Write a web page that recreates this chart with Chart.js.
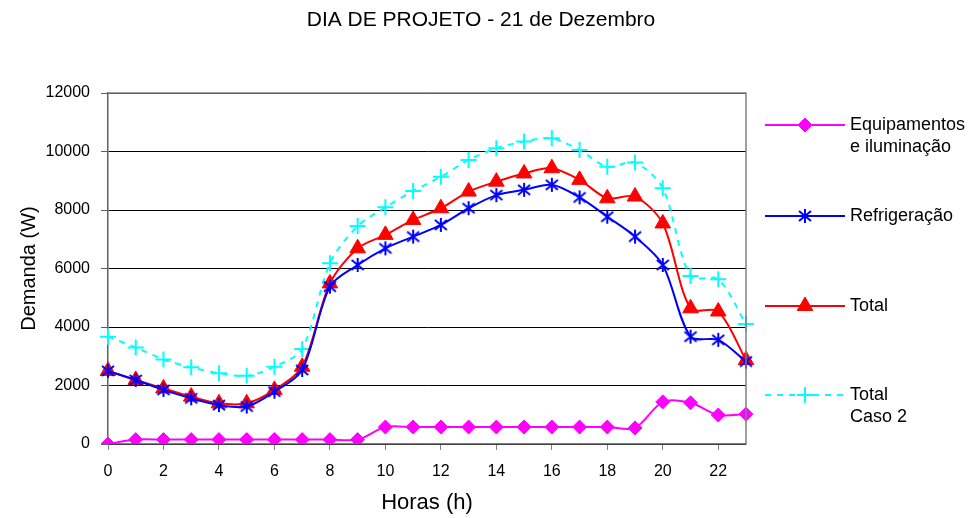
<!DOCTYPE html>
<html>
<head>
<meta charset="utf-8">
<script src="https://cdn.jsdelivr.net/npm/chart.js@4/dist/chart.umd.min.js"></script>
<style>
  html, body { margin: 0; padding: 0; background: #fff; }
  #wrap { width: 977px; height: 518px; }
</style>
</head>
<body>
<div id="wrap"><canvas id="demandChart" width="977" height="518"></canvas></div>
<script>
var chartTitle = 'DIA DE PROJETO - 21 de Dezembro';
var hours = ['0','1','2','3','4','5','6','7','8','9','10','11','12','13','14','15','16','17','18','19','20','21','22','23'];
var equipamentos = [0,150,150,150,150,150,150,150,150,150,580,580,580,580,580,580,580,580,580,550,1440,1410,990,1020];
var refrigeracao = [2500,2190,1850,1560,1330,1280,1790,2530,5380,6120,6690,7090,7490,8060,8510,8690,8860,8430,7770,7090,6120,3670,3560,2820];
var total = [2500,2190,1900,1620,1390,1390,1850,2640,5490,6690,7150,7660,8060,8630,8970,9250,9430,9030,8400,8460,7540,4640,4530,2870];
var totalCaso2 = [3670,3300,2890,2620,2420,2330,2640,3250,6180,7450,8090,8650,9140,9710,10110,10340,10450,10050,9480,9620,8740,5740,5630,4100];
var yTicks = [0,2000,4000,6000,8000,10000,12000];

var FONT = 'Liberation Sans, Arial, sans-serif';

// asterisk marker like the excel one (vertical bar + X)
function makeAsterisk(color) {
    var c = document.createElement('canvas');
    c.width = 16; c.height = 16;
    var g = c.getContext('2d');
    g.strokeStyle = color;
    g.lineWidth = 2;
    g.beginPath();
    g.moveTo(8, 1); g.lineTo(8, 15);
    g.moveTo(2, 3); g.lineTo(14, 13);
    g.moveTo(14, 3); g.lineTo(2, 13);
    g.stroke();
    return c;
}
var asterisk = makeAsterisk('#0000ff');

var titleText = {
    id: 'titleText',
    afterDraw: function (chart) {
        var ctx = chart.ctx;
        ctx.save();
        ctx.fillStyle = '#000';
        ctx.font = '21px ' + FONT;
        ctx.textAlign = 'center';
        ctx.textBaseline = 'middle';
        ctx.fillText(chartTitle, 481, 20);
        ctx.restore();
    }
};

// legend drawn at the right side, one entry per dataset
var sideLegend = {
    id: 'sideLegend',
    afterDraw: function (chart) {
        var ctx = chart.ctx;
        var rows = [125, 216, 306, 395];
        chart.data.datasets.forEach(function (ds, i) {
            var y = rows[i];
            ctx.save();
            ctx.strokeStyle = ds.borderColor;
            ctx.lineWidth = ds.borderWidth;
            ctx.setLineDash(ds.borderDash || []);
            ctx.beginPath();
            ctx.moveTo(765, y);
            ctx.lineTo(845, y);
            ctx.stroke();
            ctx.setLineDash([]);
            ctx.fillStyle = ds.pointBackgroundColor;
            ctx.strokeStyle = ds.pointBorderColor;
            ctx.lineWidth = ds.pointBorderWidth;
            Chart.helpers.drawPoint(ctx, {
                pointStyle: ds.pointStyle,
                radius: ds.pointRadius,
                rotation: 0,
                borderWidth: ds.pointBorderWidth
            }, 805, y);
            ctx.fillStyle = '#000';
            ctx.font = '18px ' + FONT;
            ctx.textBaseline = 'middle';
            ctx.textAlign = 'left';
            ds.label.forEach(function (line, k) {
                ctx.fillText(line, 850, y + k * 22);
            });
            ctx.restore();
        });
    }
};

var plotBorder = {
    id: 'plotBorder',
    afterDatasetsDraw: function (chart) {
        var a = chart.chartArea;
        var ctx = chart.ctx;
        ctx.save();
        ctx.strokeStyle = '#808080';
        ctx.lineWidth = 1.5;
        ctx.beginPath();
        ctx.moveTo(a.left, a.top);
        ctx.lineTo(a.right, a.top);
        ctx.lineTo(a.right, a.bottom);
        ctx.stroke();
        ctx.restore();
    }
};

var ctx = document.getElementById('demandChart').getContext('2d');
var demandChart = new Chart(ctx, {
    type: 'line',
    data: {
        labels: hours,
        datasets: [{
            label: ['Equipamentos', 'e iluminação'],
            data: equipamentos,
            borderColor: '#ff00ff',
            backgroundColor: '#ff00ff',
            pointBackgroundColor: '#ff00ff',
            pointBorderColor: '#ff00ff',
            pointStyle: 'rectRot',
            pointRadius: 7,
            pointBorderWidth: 1,
            borderWidth: 2,
            tension: 0.3
        }, {
            label: ['Refrigeração'],
            data: refrigeracao,
            borderColor: '#0000ff',
            backgroundColor: '#0000ff',
            pointBackgroundColor: '#0000ff',
            pointBorderColor: '#0000ff',
            pointStyle: asterisk,
            pointRadius: 8,
            pointBorderWidth: 2,
            borderWidth: 2,
            tension: 0.3
        }, {
            label: ['Total'],
            data: total,
            borderColor: '#ff0000',
            backgroundColor: '#ff0000',
            pointBackgroundColor: '#ff0000',
            pointBorderColor: '#ff0000',
            pointStyle: 'triangle',
            pointRadius: 9,
            pointBorderWidth: 1,
            borderWidth: 2,
            tension: 0.3
        }, {
            label: ['Total', 'Caso 2'],
            data: totalCaso2,
            borderColor: '#00ffff',
            backgroundColor: '#00ffff',
            pointBackgroundColor: '#00ffff',
            pointBorderColor: '#00ffff',
            pointStyle: 'cross',
            pointRadius: 8,
            pointBorderWidth: 2,
            borderWidth: 2,
            borderDash: [6, 6],
            tension: 0.3
        }]
    },
    options: {
        responsive: false,
        animation: false,
        layout: { padding: { left: 0, right: 231, top: 93, bottom: 0 } },
        plugins: {
            legend: { display: false },
            tooltip: { enabled: false },
            title: { display: false }
        },
        scales: {
            x: {
                offset: false,
                afterFit: function (scale) { scale.height = 74; },
                grid: { drawOnChartArea: false, drawTicks: true, tickLength: 6, color: '#808080' },
                border: { color: '#808080', width: 1.5 },
                ticks: {
                    autoSkip: false,
                    maxRotation: 0,
                    color: '#000',
                    padding: 12,
                    font: { family: FONT, size: 16 },
                    callback: function (v, i) { return i % 2 === 0 ? hours[i] : null; }
                },
                title: {
                    display: true,
                    text: 'Horas (h)',
                    color: '#000',
                    font: { family: FONT, size: 22 },
                    padding: { top: 2, bottom: 2 }
                }
            },
            y: {
                min: 0,
                max: 12000,
                afterFit: function (scale) { scale.width = 108; },
                afterBuildTicks: function (scale) {
                    scale.ticks = yTicks.map(function (v) { return { value: v }; });
                },
                grid: { color: '#000', lineWidth: 1, tickLength: 7, tickColor: '#606060' },
                border: { color: '#606060', width: 1.5 },
                ticks: {
                    color: '#000',
                    padding: 11,
                    font: { family: FONT, size: 16 },
                    callback: function (v) { return v; }
                },
                title: {
                    display: true,
                    text: 'Demanda (W)',
                    color: '#000',
                    font: { family: FONT, size: 20 },
                    padding: { top: 17, bottom: 4 }
                }
            }
        }
    },
    plugins: [plotBorder, titleText, sideLegend]
});
</script>
</body>
</html>
